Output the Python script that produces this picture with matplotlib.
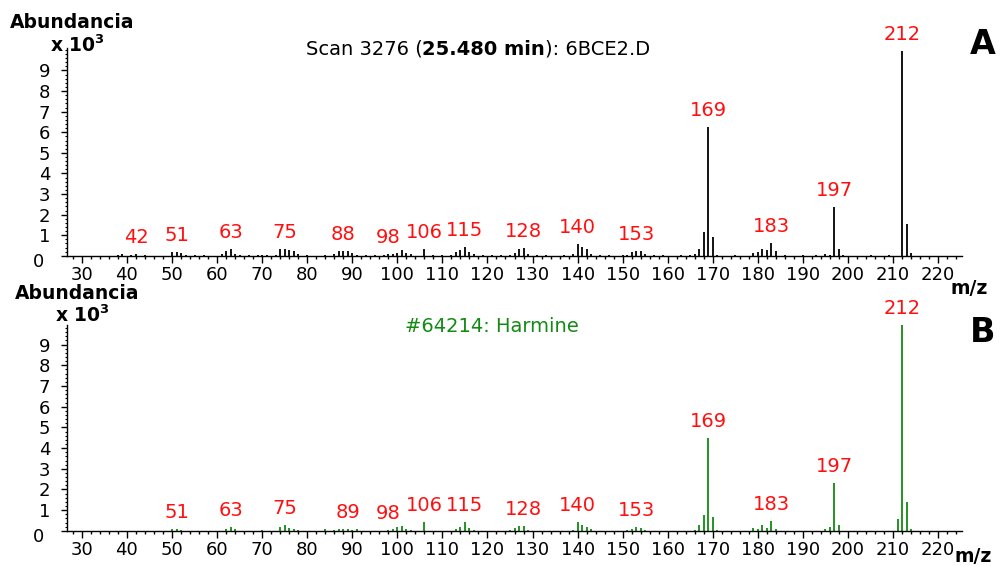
import matplotlib.pyplot as plt
from matplotlib.offsetbox import TextArea, HPacker, AnchoredOffsetbox
from matplotlib.ticker import MultipleLocator

plt.rcParams['font.family'] = ['DejaVu Sans']

# spectrum A (sample), abundance x 10^3
mz_a = [38, 39, 41, 42, 44, 50, 51, 52, 53, 55, 57, 61, 62, 63, 64, 65, 67, 69, 70, 71,
        73, 74, 75, 76, 77, 78, 80, 84, 86, 87, 88, 89, 90, 91, 93, 95, 97, 98, 99, 100,
        101, 102, 103, 106, 108, 110, 112, 113, 114, 115, 116, 117, 119, 121, 123, 125,
        126, 127, 128, 129, 131, 133, 137, 139, 140, 141, 142, 143, 145, 147, 150, 151,
        152, 153, 154, 155, 157, 159, 163, 165, 166, 167, 168, 169, 170, 171, 175, 179,
        180, 181, 182, 183, 184, 186, 190, 193, 195, 196, 197, 198, 199, 205, 209, 212,
        213, 214]
ab_a = [0.05, 0.1, 0.05, 0.1, 0.04, 0.2, 0.2, 0.15, 0.05, 0.04, 0.04, 0.08, 0.25, 0.35,
        0.1, 0.05, 0.04, 0.04, 0.05, 0.04, 0.05, 0.35, 0.35, 0.3, 0.25, 0.1, 0.04, 0.05,
        0.1, 0.25, 0.25, 0.25, 0.15, 0.05, 0.04, 0.04, 0.04, 0.1, 0.1, 0.15, 0.3, 0.15,
        0.1, 0.35, 0.04, 0.04, 0.05, 0.2, 0.3, 0.45, 0.2, 0.1, 0.04, 0.04, 0.04, 0.05,
        0.15, 0.35, 0.37, 0.1, 0.04, 0.04, 0.05, 0.1, 0.57, 0.45, 0.32, 0.1, 0.04, 0.04,
        0.04, 0.05, 0.2, 0.25, 0.25, 0.1, 0.04, 0.04, 0.04, 0.05, 0.1, 0.35, 1.16, 6.24,
        0.92, 0.05, 0.04, 0.15, 0.2, 0.35, 0.3, 0.63, 0.25, 0.04, 0.04, 0.04, 0.1, 0.05,
        2.37, 0.35, 0.05, 0.04, 0.04, 9.95, 1.55, 0.15]

# spectrum B (library: Harmine)
mz_b = [50, 51, 52, 62, 63, 64, 70, 74, 75, 76, 77, 78, 84, 86, 87, 88, 89, 90, 91, 98,
        99, 100, 101, 102, 103, 106, 113, 114, 115, 116, 117, 125, 126, 127, 128, 129,
        139, 140, 141, 142, 143, 151, 152, 153, 154, 155, 166, 167, 168, 169, 170, 171,
        179, 180, 181, 182, 183, 184, 195, 196, 197, 198, 211, 212, 213, 214]
ab_b = [0.1, 0.1, 0.05, 0.1, 0.2, 0.08, 0.03, 0.2, 0.29, 0.15, 0.1, 0.05, 0.07, 0.05,
        0.1, 0.1, 0.1, 0.05, 0.1, 0.05, 0.1, 0.2, 0.25, 0.1, 0.05, 0.42, 0.1, 0.2, 0.42,
        0.15, 0.05, 0.05, 0.15, 0.25, 0.25, 0.05, 0.05, 0.43, 0.3, 0.2, 0.08, 0.05, 0.1,
        0.2, 0.15, 0.05, 0.05, 0.3, 0.77, 4.47, 0.67, 0.05, 0.15, 0.1, 0.3, 0.15, 0.5,
        0.1, 0.1, 0.2, 2.3, 0.3, 0.58, 9.95, 1.39, 0.1]

lab_a = [42, 51, 63, 75, 88, 98, 106, 115, 128, 140, 153, 169, 183, 197, 212]
lab_b = [51, 63, 75, 89, 98, 106, 115, 128, 140, 153, 169, 183, 197, 212]

y_ticks = list(range(0, 10))
x_ticks = list(range(30, 221, 10))

fig = plt.figure(figsize=(10, 5.66), dpi=100)


def draw_panel(rect, mz, ab, labels, color, ylim_top):
    ax = fig.add_axes(rect)
    ax.vlines(mz, 0, ab, color=color, linewidth=1.3)
    ax.set_xlim(26.7, 225.3)
    ax.set_ylim(0, ylim_top)
    ax.spines['top'].set_visible(False)
    ax.spines['right'].set_visible(False)
    ax.spines['left'].set_linewidth(1.0)
    ax.spines['bottom'].set_linewidth(1.0)
    ax.set_xticks(x_ticks)
    ax.xaxis.set_minor_locator(MultipleLocator(2))
    ax.set_yticks(y_ticks)
    ax.set_yticklabels([''] + [str(t) for t in y_ticks[1:]])
    ax.yaxis.set_minor_locator(MultipleLocator(0.2))
    ax.tick_params(axis='x', which='major', length=5, width=1, labelsize=13, pad=2)
    ax.tick_params(axis='x', which='minor', length=2.5, width=1)
    ax.tick_params(axis='y', which='major', length=4, width=1, labelsize=13, pad=8)
    ax.tick_params(axis='y', which='minor', length=1.5, width=0.8)
    # the zero label sits lower-left of the axis corner
    ax.text(-0.026, -0.03, "0", transform=ax.transAxes, fontsize=13,
            ha='right', va='center')
    look = dict(zip(mz, ab))
    for m in labels:
        ax.annotate(str(m), (m, look.get(m, 0.1)), xytext=(0, 5),
                    textcoords='offset points', ha='center', va='bottom',
                    color='#ff1010', fontsize=14)
    return ax


ax_a = draw_panel([0.067, 0.548, 0.895, 0.3675], mz_a, ab_a, lab_a, 'black', 10.1)
ax_b = draw_panel([0.067, 0.062, 0.895, 0.364], mz_b, ab_b, lab_b, '#138a13', 9.95)

# titles
parts = [TextArea("Scan 3276 (", textprops=dict(fontsize=14)),
         TextArea("25.480 min", textprops=dict(fontsize=14, fontweight='bold')),
         TextArea("): 6BCE2.D", textprops=dict(fontsize=14))]
box = HPacker(children=parts, align='baseline', pad=0, sep=0)
anch = AnchoredOffsetbox(loc='center', child=box, frameon=False,
                         bbox_to_anchor=(0.478, 0.913), bbox_transform=fig.transFigure,
                         borderpad=0, pad=0)
fig.add_artist(anch)

fig.text(0.492, 0.424, "#64214: Harmine", color='#138a13', fontsize=14,
         ha='center', va='center')

# axis captions
for y1, y2, x1, x2 in [(0.961, 0.92, 0.010, 0.050), (0.482, 0.443, 0.015, 0.055)]:
    fig.text(x1, y1, "Abundancia", fontsize=13.5, fontweight='bold', va='center')
    fig.text(x2, y2, "x 10$^{\\mathbf{3}}$", fontsize=13.5, fontweight='bold', va='center')

fig.text(0.969, 0.490, "m/z", fontsize=13.5, fontweight='bold', ha='center', va='center')
fig.text(0.973, 0.016, "m/z", fontsize=13.5, fontweight='bold', ha='center', va='center')

fig.text(0.983, 0.921, "A", fontsize=24, fontweight='bold', ha='center', va='center')
fig.text(0.983, 0.413, "B", fontsize=24, fontweight='bold', ha='center', va='center')

fig.savefig("out.png", dpi=100)
